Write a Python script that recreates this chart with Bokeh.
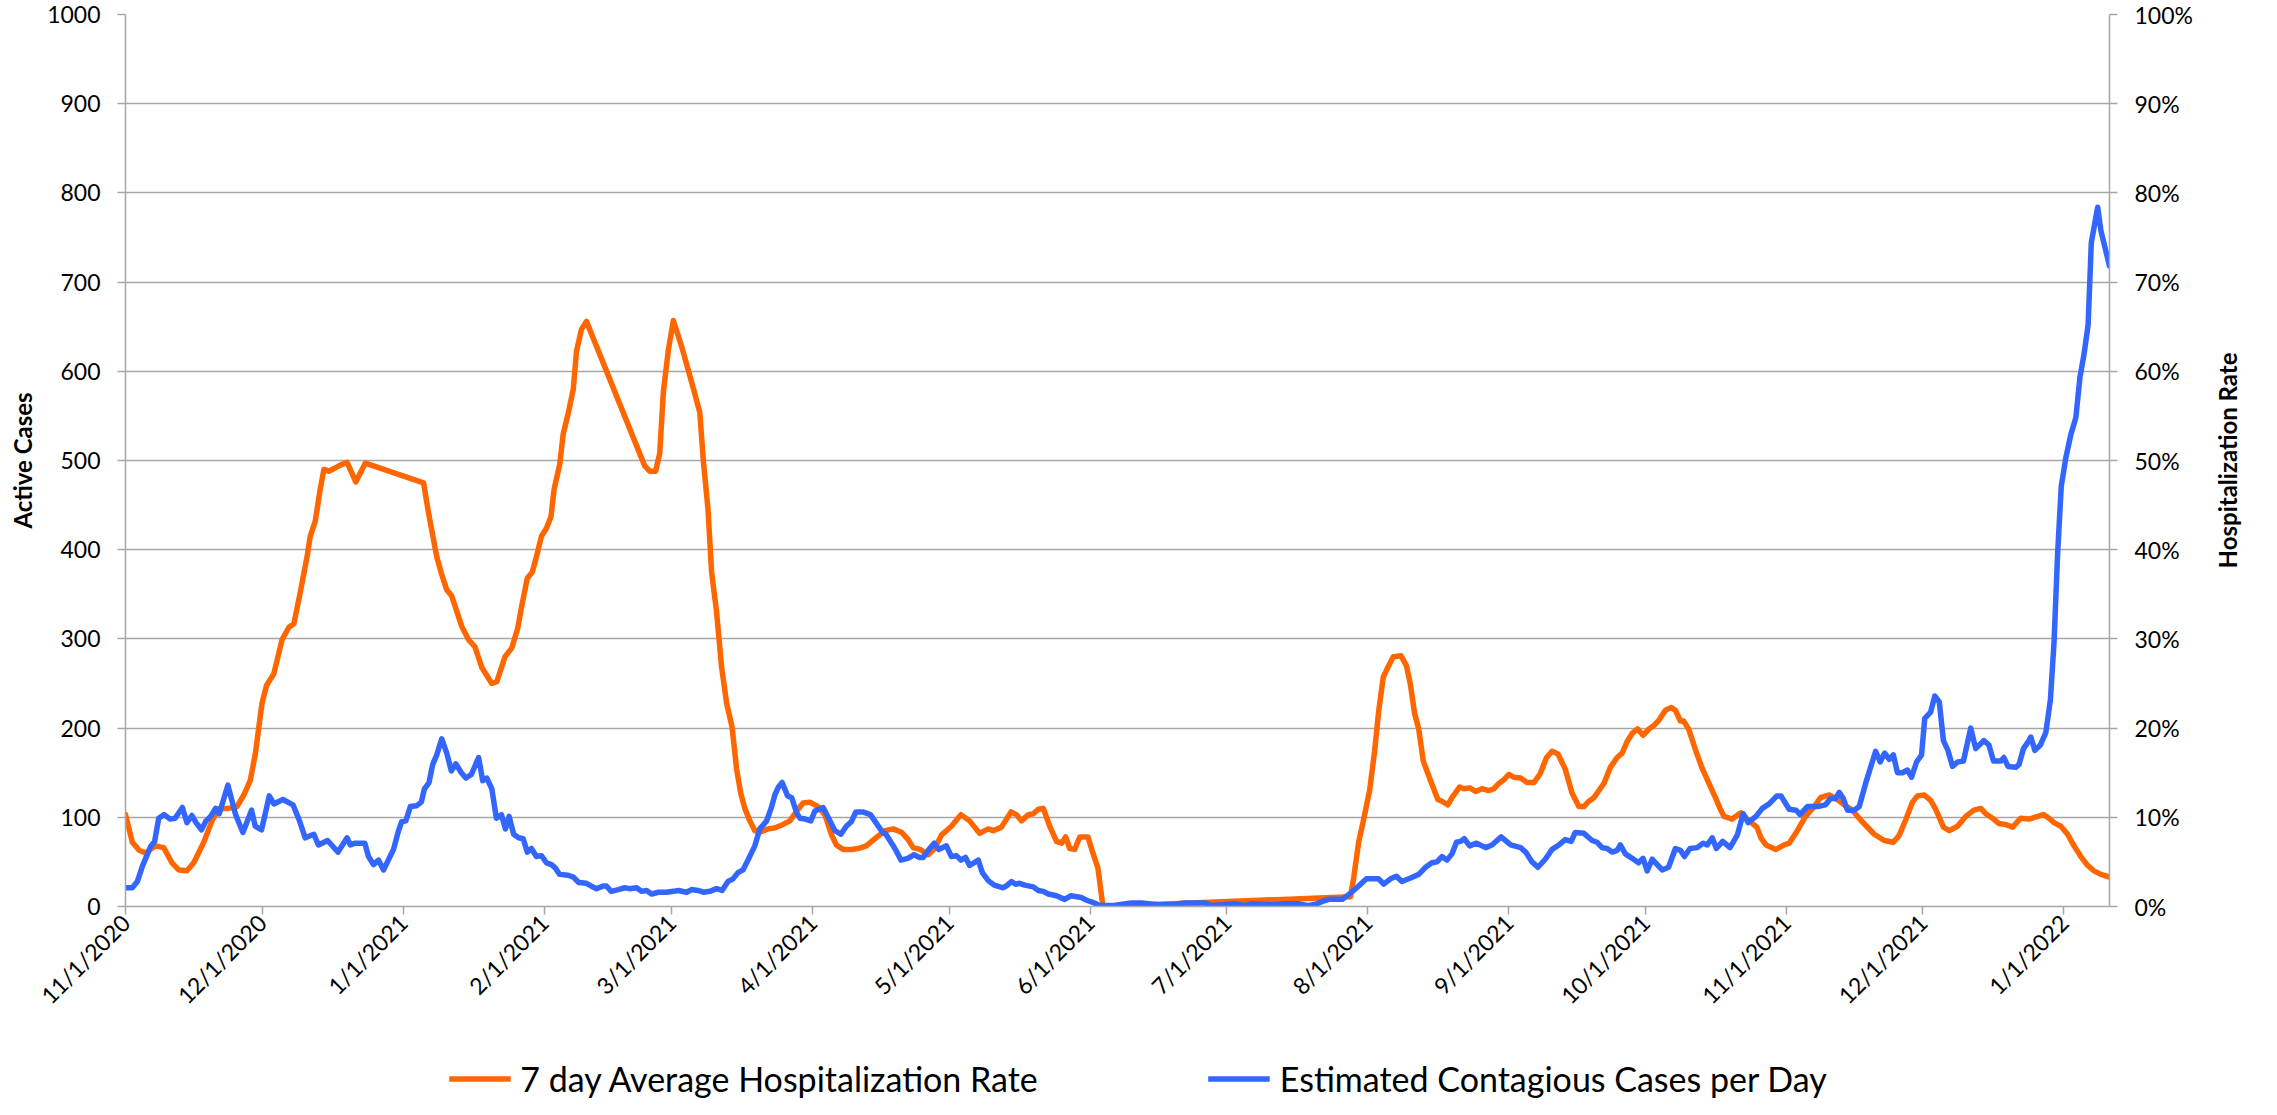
from math import pi
import pandas as pd
from bokeh.plotting import figure
from bokeh.layouts import column, row
from bokeh.models import (Range1d, LinearAxis, FixedTicker, Legend, LegendItem,
                          PrintfTickFormatter, Title)
from bokeh.embed import file_html
from bokeh.resources import INLINE

START = "2020-11-01"
END = "2022-01-11"

# Estimated Contagious Cases per Day (days since 11/1/2020, value)
case_days = [0, 1.5, 2.6, 3.7, 5.5, 6.4, 7.3, 8.5, 9.8, 10.9, 12.5, 13.5, 14.6, 15.5, 16.7, 17.7, 18.7, 19.8,
             20.6, 22.5, 24.2, 25.8, 27.7, 28.5, 29.9, 31.6, 32.6, 34.6, 36.8, 38.1, 39.5, 41.4, 42.4, 44.4,
             46.7, 48.7, 49.4, 50.5, 52.6, 53.4, 54.5, 55.6, 56.7, 58.9, 60, 60.7, 61.6, 62.6, 64, 65, 65.7,
             66.7, 67.5, 68.4, 69.5, 70.6, 71.6, 72.6, 73.8, 74.8, 76, 77.6, 78.5, 79.4, 80.5, 81.5, 82.6,
             83.5, 84.3, 85.3, 86.4, 87.4, 88.3, 89.2, 90.3, 91.4, 92.5, 93.6, 94.5, 95.4, 97.3, 98.4, 99.6,
             101.3, 102.3, 103.5, 105, 105.7, 106.7, 108.3, 109.7, 110.8, 112.3, 113.4, 114.5, 115.6, 117.1,
             118.9, 120.4, 121.5, 123.3, 124.4, 125.8, 127, 128.4, 129.9, 131.1, 132.4, 133.5, 134.6, 135.7,
             136.8, 138.3, 139.4, 140.9, 142, 142.7, 143.5, 144.3, 145.5, 146.4, 147.5, 148.2, 149.4, 150.6,
             151.5, 153.3, 154.8, 155.9, 157.2, 158.4, 159.5, 160.5, 162, 163.7, 164.9, 166.4, 167.1, 168.6,
             169.3, 170.4, 171.9, 173.3, 174.5, 175.3, 176.4, 177.7, 178.7, 180.4, 181.5, 182.6, 183.6, 184.6,
             185.5, 187.4, 188.3, 189.6, 190.9, 192.9, 193.8, 194.7, 195.6, 196.5, 197.6, 199.5, 200.6, 201.7,
             202.8, 204.6, 206.4, 207.7, 210.1, 211.2, 212.4, 214.1, 216.7, 221.1, 223.3, 227, 229.9, 232.8,
             237.2, 238.7, 243.8, 246, 247.4, 251.8, 254.8, 257.7, 259.9, 261.7, 263.2, 264.4, 267.4, 269.2,
             271, 272.7, 275.4, 276.5, 278, 279.3, 280.5, 282.4, 284.2, 285.7, 287.1, 288.2, 289.3, 290.4,
             291.5, 292.5, 293.4, 294.2, 295.4, 296.9, 298.9, 300.3, 302.3, 304.4, 306.6, 307.7, 309.1, 310.4,
             312, 313.5, 315, 316.4, 317.7, 318.6, 320.5, 322.3, 323.4, 324.5, 325.6, 326.7, 327.8, 328.5,
             329.6, 331.1, 332.5, 333.5, 334.4, 335.5, 336.6, 337.7, 339.1, 340.6, 341.7, 342.6, 343.8, 345.4,
             346.7, 347.6, 348.7, 349.6, 351, 352.6, 354.2, 355.5, 356.6, 358.3, 359.7, 361.2, 362.9, 363.8,
             365.6, 367.1, 368, 369.6, 371.8, 373.6, 374.7, 375.8, 376.6, 377.5, 378.4, 379.9, 381, 382.4,
             384.6, 385.6, 386.6, 387.6, 388.5, 389.4, 390.5, 391.6, 392.5, 393.6, 394.7, 395.4, 396.7, 397.6,
             398.6, 399.5, 400.5, 401.5, 402.6, 403.9, 405.5, 406.6, 408.4, 409.5, 410.5, 412.1, 412.8, 413.7,
             415.4, 416.1, 417.1, 418.3, 418.7, 419.6, 420.8, 422, 423, 423.8, 424.6, 425.4, 426.4, 427.5,
             428.6, 429.5, 430.4, 431.3, 432, 433.4, 434.1, 436]
case_values = [21, 21, 28, 45, 67, 73, 99, 103, 98, 99, 111, 94, 102, 94, 86, 96, 101, 110,
               104, 136, 103, 83, 108, 90, 86, 124, 115, 120, 114, 98, 77, 81, 69, 74,
               61, 77, 69, 71, 71, 56, 47, 52, 41, 64, 85, 95, 96, 112, 113, 117, 132,
               139, 159, 170, 188, 172, 152, 160, 150, 144, 148, 167, 141, 144, 132, 99, 103,
               87, 101, 81, 77, 76, 61, 65, 56, 57, 49, 47, 43, 36, 35, 33, 27,
               26, 23, 20, 23, 23, 17, 19, 21, 20, 21, 17, 18, 14, 16,
               16, 17, 18, 16, 19, 18, 16, 17, 20, 18, 28, 31, 38, 41,
               52, 68, 87, 96, 112, 125, 134, 139, 124, 122, 105, 99, 98, 96,
               107, 111, 96, 85, 81, 90, 95, 106, 106, 103, 94, 83, 81, 69,
               63, 52, 54, 58, 55, 55, 63, 71, 64, 68, 56, 57, 52, 55,
               46, 52, 38, 29, 24, 21, 24, 28, 25, 26, 24, 22, 18, 17,
               14, 12, 8, 12, 10, 7, 5, 1, 1, 4, 4, 2, 2, 4,
               4, 1, 3, 1, 3, 2, 3, 3, 1, 3, 6, 8, 8, 15,
               23, 31, 31, 25, 31, 34, 28, 32, 36, 44, 49, 50, 56, 52,
               59, 72, 73, 76, 68, 71, 66, 69, 78, 69, 66, 61, 50, 44,
               53, 64, 69, 75, 73, 83, 82, 74, 72, 66, 65, 61, 63, 69,
               59, 54, 49, 54, 40, 53, 47, 41, 44, 65, 63, 56, 65, 66,
               71, 69, 77, 65, 73, 66, 80, 104, 94, 101, 110, 115, 124, 124,
               109, 108, 103, 112, 112, 114, 121, 121, 128, 121, 108, 108, 112, 138,
               174, 162, 172, 165, 170, 150, 150, 153, 145, 162, 170, 211, 218, 236,
               229, 186, 175, 157, 162, 163, 200, 177, 186, 181, 163, 163, 167, 157,
               156, 159, 177, 186, 190, 175, 181, 195, 231, 295, 396, 471, 503, 529,
               548, 593, 619, 652, 744, 784, 758, 718]

# 7 day Average Hospitalization Rate (days since 11/1/2020, percent)
hosp_days = [0, 1.5, 3, 4.4, 6.6, 8.4, 10.2, 11.7, 13.5, 15, 17.2, 19, 20.5, 22.6, 24.5, 26, 27.4, 28.5,
             30, 31, 32.6, 34.4, 35.9, 37, 38.4, 39.9, 40.6, 41.7, 42.8, 43.6, 44.7, 46.9, 48.7, 50.6,
             52.7, 65.5, 66.6, 68.4, 69.5, 70.6, 71.7, 73.9, 75.4, 76.8, 78.3, 80.5, 81.6, 83.4, 84.9,
             86.2, 87, 88.3, 89.4, 90.3, 91.4, 92.5, 93.5, 94.2, 95.4, 96.2, 97.3, 98.4, 99.1, 100.2,
             101.3, 114.1, 115.2, 116.5, 117.4, 118.2, 119.3, 120.4, 122.2, 124.4, 126.2, 127, 128,
             128.8, 129.9, 131, 132.1, 133.3, 134.3, 135.2, 136.1, 137.2, 138.3, 139.8, 141.2, 142.6,
             144.5, 146, 147.5, 148.9, 150.4, 152.2, 153.7, 155.1, 156.2, 157.7, 159.5, 161, 162.8,
             164.7, 166.9, 168.7, 170.6, 172, 173.1, 174.6, 176.4, 177.8, 179.3, 181.5, 183.6, 185.5,
             187.7, 189.6, 190.7, 192.5, 194.6, 195.8, 196.9, 198.4, 199.5, 200.6, 201.7, 203.1, 204.6,
             205.7, 206.6, 207.5, 208.6, 209.7, 211.5, 212.4, 213.7, 214.8, 269.2, 269.9, 271, 272.1,
             273.4, 274.5, 275.4, 276.4, 277.4, 278.6, 280.3, 281.5, 282.4, 283.3, 284.2, 285.2, 286.8,
             288.4, 289.3, 290.6, 291.5, 293.2, 294.1, 295.4, 296.7, 298.1, 299.6, 300.7, 301.8, 302.9,
             304, 305.1, 306.6, 308, 309.5, 310.8, 312.3, 313.5, 314.8, 316.4, 317.9, 319.4, 320.5,
             321.6, 322.7, 323.8, 324.9, 326.3, 327.8, 328.9, 330, 331.1, 332.3, 333.5, 334.8, 335.9,
             337, 338.4, 339.7, 340.6, 341.7, 342.4, 343.5, 345, 346.4, 347.9, 349.4, 350.4, 351.3,
             353.1, 355, 356.8, 358.5, 359.4, 360.5, 362.7, 364.5, 365.6, 367.4, 369.2, 371.1, 372.5,
             374.4, 376.2, 378, 379.5, 381.3, 384.3, 386.5, 388.5, 389.8, 391.2, 392.7, 393.8, 395.3,
             396.7, 397.8, 399.5, 400.8, 402.6, 404.4, 406.2, 407.7, 408.8, 410.3, 411.7, 413.2, 414.7,
             416.5, 418.3, 420.2, 421.5, 422.7, 423.8, 425.3, 426.8, 428.2, 429.7, 431.2, 432.6, 434.1, 436]
hosp_rate = [10.3, 7.2, 6.3, 6.0, 6.8, 6.6, 4.9, 4.1, 4.0, 4.9, 7.2, 9.6, 11.0, 11.0, 11.2, 12.5, 14.1, 17.0,
             22.8, 24.8, 26.1, 29.9, 31.3, 31.7, 35.2, 39.2, 41.5, 43.2, 46.8, 49.0, 48.8, 49.4, 49.8, 47.6,
             49.7, 47.5, 44.1, 39.2, 37.2, 35.5, 34.8, 31.4, 29.9, 29.1, 26.8, 25.0, 25.2, 28.0, 29.0,
             31.2, 33.5, 36.8, 37.5, 39.2, 41.5, 42.4, 43.7, 46.8, 49.5, 53.0, 55.3, 58.0, 62.2, 64.7,
             65.6, 49.4, 48.8, 48.8, 50.8, 57.7, 62.4, 65.7, 62.8, 58.8, 55.4, 49.9, 44.6,
             37.5, 33.0, 26.8, 22.8, 20.1, 15.4, 12.7, 11.0, 9.6, 8.5, 8.4, 8.7, 8.8,
             9.2, 9.6, 10.7, 11.6, 11.7, 11.2, 10.3, 8.1, 6.9, 6.4, 6.4, 6.5, 6.8,
             7.6, 8.5, 8.7, 8.3, 7.5, 6.6, 6.4, 5.8, 6.5, 8.0, 9.0, 10.3, 9.6,
             8.2, 8.7, 8.5, 8.9, 10.6, 10.3, 9.6, 10.3, 10.4, 10.9, 11.0, 9.0, 7.3,
             7.1, 7.8, 6.5, 6.4, 7.8, 7.8, 6.3, 4.3, 0.0, 1.1, 3.2, 7.2, 9.8,
             13.0, 17.4, 21.9, 25.7, 26.8, 28.0, 28.1, 27.0, 24.8, 21.6, 19.9, 16.3, 14.1,
             12.0, 11.8, 11.4, 12.2, 13.4, 13.2, 13.3, 12.9, 13.2, 13.0, 13.2, 13.8, 14.2,
             14.8, 14.5, 14.4, 13.9, 13.9, 14.8, 16.7, 17.4, 17.1, 15.4, 12.7, 11.2, 11.2,
             11.8, 12.2, 13.0, 13.8, 15.6, 16.7, 17.2, 18.5, 19.4, 19.9, 19.2, 19.9, 20.3,
             20.9, 22.0, 22.3, 22.0, 20.8, 20.8, 19.9, 17.6, 15.6, 13.9, 12.2, 11.0, 10.1,
             9.8, 10.5, 9.6, 8.9, 7.7, 6.9, 6.4, 6.9, 7.1, 8.5, 10.1, 11.2, 12.2,
             12.5, 12.0, 11.3, 10.8, 9.7, 8.1, 7.4, 7.2, 8.0, 9.7, 11.7, 12.4, 12.5,
             11.9, 10.9, 8.9, 8.5, 9.0, 10.1, 10.8, 11.0, 10.4, 9.9, 9.3, 9.2, 8.9,
             9.9, 9.8, 10.1, 10.3, 9.9, 9.4, 9.0, 8.1, 6.8, 5.6, 4.6, 4.0, 3.6, 3.3]

x_tick_labels = ["11/1/2020", "12/1/2020", "1/1/2021", "2/1/2021", "3/1/2021", "4/1/2021", "5/1/2021",
                 "6/1/2021", "7/1/2021", "8/1/2021", "9/1/2021", "10/1/2021", "11/1/2021", "12/1/2021",
                 "1/1/2022"]
left_ticks = list(range(0, 1001, 100))
right_ticks = list(range(0, 101, 10))
series_names = ["7 day Average Hospitalization Rate", "Estimated Contagious Cases per Day"]
left_title = "Active Cases"
right_title = "Hospitalization Rate"

start = pd.Timestamp(START)
case_x = start + pd.to_timedelta(case_days, unit="D")
hosp_x = start + pd.to_timedelta(hosp_days, unit="D")
tick_ms = [int(pd.Timestamp(pd.to_datetime(t, format="%m/%d/%Y")).value // 10**6) for t in x_tick_labels]

FONT = "Lato"
GRID = "#a6a6a6"
ORANGE = "#FF6600"
BLUE = "#3366FF"
W = 2261          # total width
LH = 42           # legend strip height
RW = 60           # right title strip width
PH = 1099 - LH    # chart height
BT, BB = 14, 151  # chart top / bottom borders

p = figure(width=W - RW, height=PH, x_axis_type="datetime", output_backend="svg", toolbar_location=None,
           x_range=Range1d(start.to_pydatetime(), pd.Timestamp(END).to_pydatetime()),
           y_range=Range1d(0, 1000),
           min_border_left=125, min_border_right=92, min_border_top=BT, min_border_bottom=BB)
p.outline_line_color = None
p.xgrid.visible = False
p.ygrid.grid_line_color = GRID
p.ygrid.grid_line_width = 1.5
p.ygrid.ticker = FixedTicker(ticks=left_ticks)

p.extra_y_ranges = {"rate": Range1d(0, 100)}
right = LinearAxis(y_range_name="rate", ticker=FixedTicker(ticks=right_ticks),
                   formatter=PrintfTickFormatter(format="%d%%"))
p.add_layout(right, "right")

p.yaxis[0].ticker = FixedTicker(ticks=left_ticks)
p.yaxis[0].axis_label = left_title

p.xaxis.ticker = FixedTicker(ticks=tick_ms)
p.xaxis.major_label_overrides = {ms: lab for ms, lab in zip(tick_ms, x_tick_labels)}
p.xaxis.major_label_orientation = pi / 4
p.xaxis.major_label_standoff = 4

for ax in p.axis:
    ax.axis_line_color = GRID
    ax.axis_line_width = 1.5
    ax.major_tick_line_color = GRID
    ax.major_tick_line_width = 1.5
    ax.major_tick_out = 8
    ax.major_tick_in = 0
    ax.minor_tick_line_color = None
    ax.major_label_text_font = FONT
    ax.major_label_text_font_size = "23px"
    ax.major_label_text_color = "black"
    ax.axis_label_text_font = FONT
    ax.axis_label_text_font_size = "24px"
    ax.axis_label_text_font_style = "bold"
    ax.axis_label_text_color = "black"

p.yaxis[0].major_label_standoff = 17
p.yaxis[0].axis_label_standoff = 7
right.major_label_standoff = 17

orange = p.line(hosp_x, hosp_rate, y_range_name="rate", line_color=ORANGE, line_width=5.5,
                line_join="round", line_cap="round")
blue = p.line(case_x, case_values, line_color=BLUE, line_width=5.5, line_join="round", line_cap="round")

# right-hand axis title strip (title reads bottom-to-top, like the left one)
rt = figure(width=RW, height=PH, output_backend="svg", toolbar_location=None,
            x_axis_location=None, y_axis_location=None,
            x_range=Range1d(0, 1), y_range=Range1d(0, 1),
            min_border_left=40, min_border_right=0, min_border_top=BT, min_border_bottom=BB)
rt.outline_line_color = None
rt.xgrid.visible = False
rt.ygrid.visible = False
rt.add_layout(Title(text=right_title, align="center", text_font=FONT, text_font_size="24px",
                    text_font_style="bold", text_color="black", standoff=0, offset=0), "left")

# legend strip below the chart
q = figure(width=W, height=LH, output_backend="svg", toolbar_location=None,
           x_axis_location=None, y_axis_location=None,
           x_range=Range1d(0, 1), y_range=Range1d(0, 1), min_border=0, min_border_left=14)
q.outline_line_color = None
q.xgrid.visible = False
q.ygrid.visible = False
lo = q.line([-3, -2], [-3, -2], line_color=ORANGE, line_width=5.5)
lb = q.line([-3, -2], [-3, -2], line_color=BLUE, line_width=5.5)
legend = Legend(items=[LegendItem(label=series_names[0], renderers=[lo]),
                       LegendItem(label=series_names[1], renderers=[lb])],
                orientation="horizontal", location="center")
legend.border_line_color = None
legend.background_fill_alpha = 0
legend.padding = 0
legend.margin = 0
legend.spacing = 170
legend.glyph_width = 62
legend.glyph_height = 20
legend.label_standoff = 10
legend.label_text_font = FONT
legend.label_text_font_size = "34px"
legend.label_text_color = "black"
q.add_layout(legend)

open("out.html", "w").write(file_html(column(row(p, rt, spacing=0), q, spacing=0), INLINE))
